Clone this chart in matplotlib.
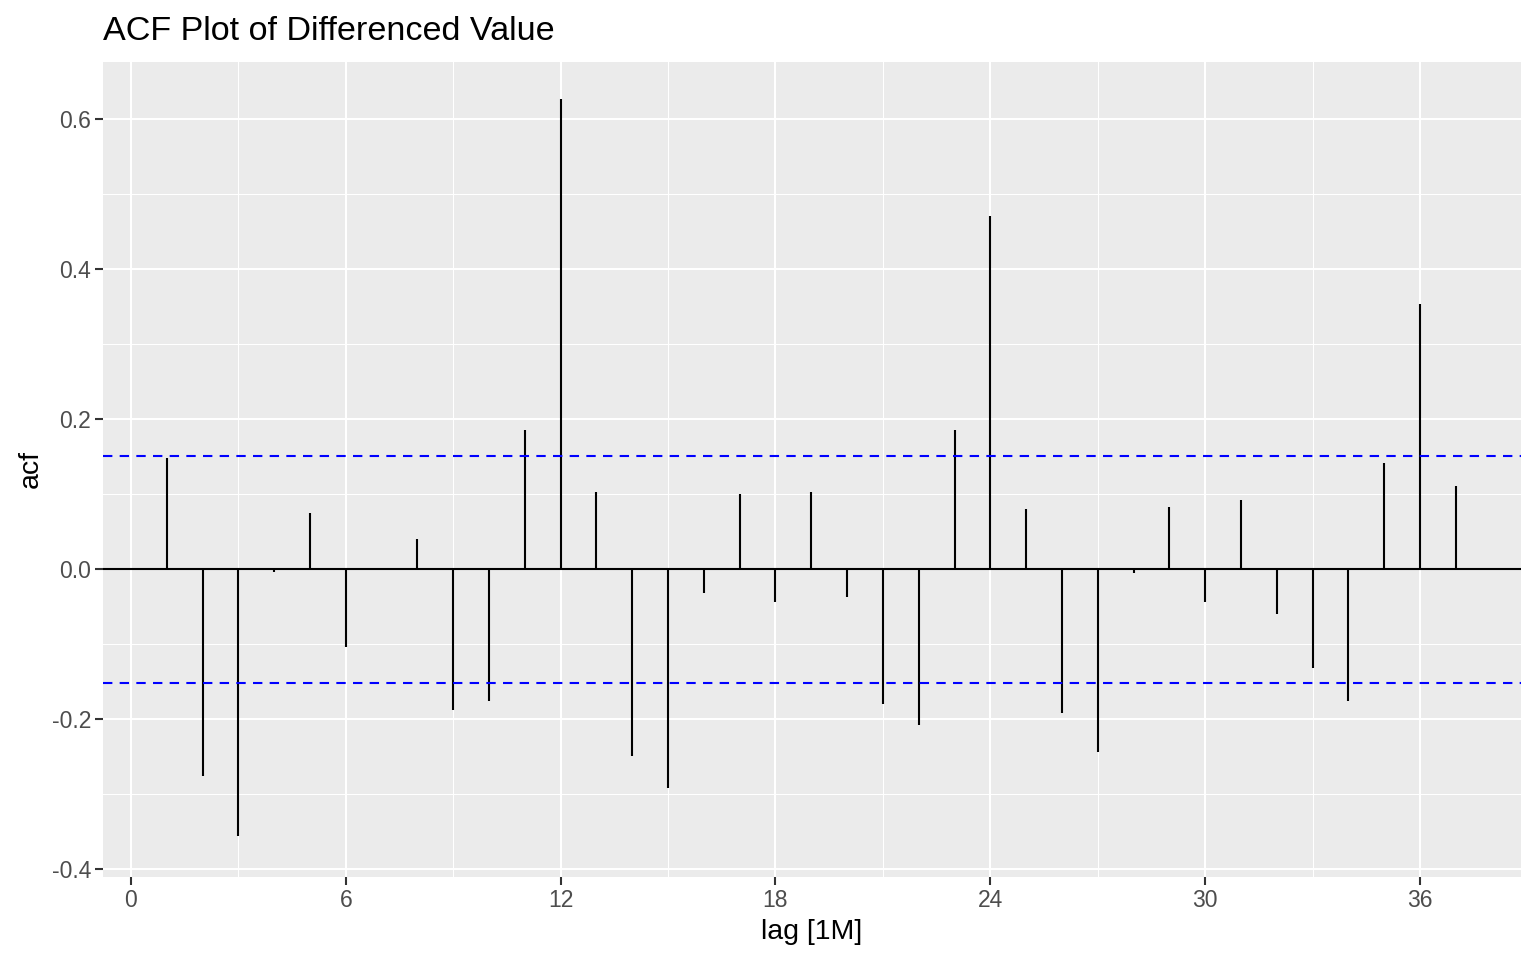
import numpy as np
import matplotlib.pyplot as plt

# ACF values, lags 1..37
lags = np.arange(1, 38)
acf = [0.148, -0.275, -0.356, -0.004, 0.075, -0.103, 0.001, 0.041, -0.188, -0.176,
       0.185, 0.627, 0.103, -0.249, -0.292, -0.031, 0.100, -0.043, 0.103, -0.037,
       -0.179, -0.207, 0.185, 0.471, 0.081, -0.192, -0.244, -0.005, 0.083, -0.043,
       0.092, -0.059, -0.131, -0.176, 0.141, 0.353, 0.111]
conf_limit = 0.151

x_ticks = [0, 6, 12, 18, 24, 30, 36]
y_ticks = [-0.4, -0.2, 0.0, 0.2, 0.4, 0.6]


def main():
    plt.rcParams['font.family'] = ['Liberation Sans', 'DejaVu Sans']
    fig = plt.figure(figsize=(15.36, 9.6), dpi=100)
    ax = fig.add_axes([103 / 1536, 1 - 877 / 960, (1521 - 103) / 1536, (877 - 62) / 960])

    ax.set_facecolor('#EBEBEB')
    for s in ax.spines.values():
        s.set_visible(False)

    # grid: major and minor lines in white
    ax.set_xticks(x_ticks)
    ax.set_xticks([3, 9, 15, 21, 27, 33], minor=True)
    ax.set_yticks(y_ticks)
    ax.set_yticks([-0.3, -0.1, 0.1, 0.3, 0.5], minor=True)
    ax.grid(True, which='major', color='white', linewidth=1.5)
    ax.grid(True, which='minor', color='white', linewidth=0.75)
    ax.set_axisbelow(True)

    ax.axhline(0, color='black', linewidth=1.5, zorder=3)
    ax.vlines(lags, 0, acf, color='black', linewidth=1.5, zorder=3)
    ax.axhline(conf_limit, color='blue', linewidth=1.5, linestyle=(0, (4.5, 3.5)), zorder=4)
    ax.axhline(-conf_limit, color='blue', linewidth=1.5, linestyle=(0, (4.5, 3.5)), zorder=4)

    ax.set_xlim(-0.78, 38.82)
    ax.set_ylim(-0.41, 0.676)

    ax.set_xticklabels([str(t) for t in x_ticks])
    ax.set_yticklabels(['%.1f' % t for t in y_ticks])
    ax.tick_params(which='major', length=5.5, width=1.5, color='#333333',
                   labelcolor='#4D4D4D', labelsize=16.5, pad=3)
    ax.tick_params(which='minor', length=0)

    ax.set_xlabel('lag [1M]', fontsize=20.5, color='black', labelpad=5)
    ax.set_ylabel('acf', fontsize=20.5, color='black', labelpad=6)
    ax.set_title('ACF Plot of Differenced Value', fontsize=24.6, loc='left', pad=16)

    fig.savefig('out.png', dpi=100)


if __name__ == "__main__":
    main()
